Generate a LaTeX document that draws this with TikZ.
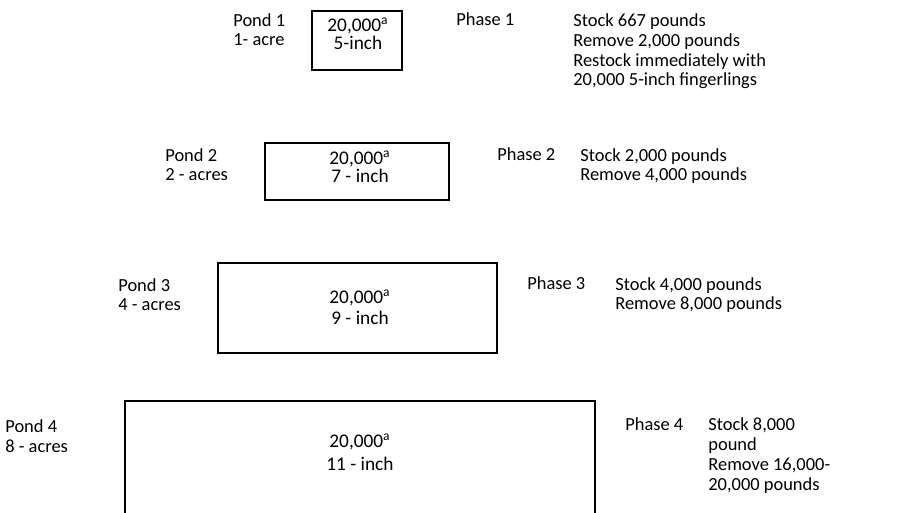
\documentclass[tikz,border=0pt]{standalone}
\usepackage{fontspec}
\setmainfont{Carlito}

\tikzset{
  pondbox/.style = {draw, line width=0.7pt},
  lbl/.style     = {anchor=base west, inner sep=0pt, align=left,
                    font=\fontsize{10.5}{11.3}\selectfont},
  boxtxt/.style  = {anchor=base, inner sep=0pt, align=center,
                    font=\fontsize{11}{#1}\selectfont}
}

\begin{document}
\begin{tikzpicture}[x=0.02cm, y=-0.02cm]
\useasboundingbox (0,0) rectangle (906,513);
% pond 1
\node[lbl] (pond1) at (233,46) {Pond 1\\1- acre};
\draw[pondbox] (312,11) rectangle (402,70);
\node[boxtxt=10.6pt] (fish1) at (358,50) {20,000\textsuperscript{a}\\5-inch};
\node[lbl] (phase1) at (456,26) {Phase 1};
\node[lbl] (task1) at (573,86) {Stock 667 pounds\\Remove 2,000 pounds\\Restock immediately with\\20,000 5-inch fingerlings};
% pond 2
\node[lbl] (pond2) at (165,181) {Pond 2\\2 - acres};
\draw[pondbox] (265,143) rectangle (449,200);
\node[boxtxt=10.8pt] (fish2) at (360,183) {20,000\textsuperscript{a}\\7 - inch};
\node[lbl] (phase2) at (497,161) {Phase 2};
\node[lbl] (task2) at (580,181) {Stock 2,000 pounds\\Remove 4,000 pounds};
% pond 3
\node[lbl] (pond3) at (118,311) {Pond 3\\4 - acres};
\draw[pondbox] (218,263) rectangle (497,353);
\node[boxtxt=11.9pt] (fish3) at (360,324) {20,000\textsuperscript{a}\\9 - inch};
\node[lbl] (phase3) at (527,290) {Phase 3};
\node[lbl] (task3) at (615,310) {Stock 4,000 pounds\\Remove 8,000 pounds};
% pond 4
\node[lbl] (pond4) at (5,452) {Pond 4\\8 - acres};
\draw[pondbox] (125,520) -- (125,401) -- (595,401) -- (595,520);
\node[boxtxt=13pt] (fish4) at (360,470) {20,000\textsuperscript{a}\\11 - inch};
\node[lbl] (phase4) at (625,430) {Phase 4};
\node[lbl] (task4) at (708,490) {Stock 8,000\\pound\\Remove 16,000-\\20,000 pounds};
\end{tikzpicture}
\end{document}
